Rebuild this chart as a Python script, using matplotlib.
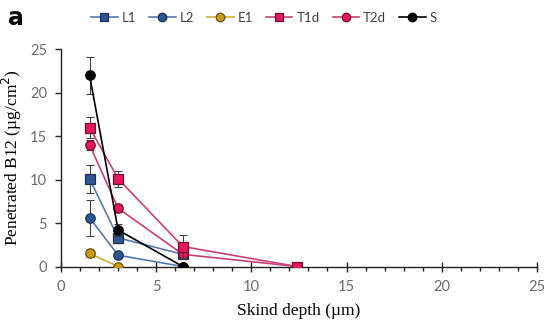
import matplotlib
matplotlib.use("Agg")
import matplotlib.pyplot as plt
import numpy as np

# skin depth (um)
depth = [1.5, 3.0, 6.4, 12.4]

names = ["L1", "L2", "E1", "T1d", "T2d", "S"]
L1 = [10.1, 3.3, 1.4, np.nan]
L2 = [5.6, 1.3, 0.0, np.nan]
E1 = [1.5, 0.0, np.nan, np.nan]
T1d = [16.0, 10.1, 2.3, 0.0]
T2d = [14.0, 6.7, 1.4, 0.0]
S = [22.0, 4.2, 0.0, np.nan]

L1_err = [1.6, 0.6, 0.0, 0.0]
L2_err = [2.1, 0.3, 0.0, 0.0]
E1_err = [0.4, 0.1, 0.0, 0.0]
T1d_err = [1.2, 0.9, 1.3, 0.0]
T2d_err = [0.6, 0.4, 0.2, 0.0]
S_err = [2.1, 0.7, 0.1, 0.0]

series = [L1, L2, E1, T1d, T2d, S]
errors = [L1_err, L2_err, E1_err, T1d_err, T2d_err, S_err]
markers = ["s", "o", "o", "s", "o", "o"]
fills = ["#2F5597", "#2F5597", "#C99A17", "#E8175D", "#E8175D", "#000000"]
edges = ["#1F3050", "#1F3050", "#6B5210", "#6A1030", "#6A1030", "#000000"]
lines = ["#5878AE", "#5878AE", "#D1AE3A", "#C8407A", "#C8407A", "#000000"]
zord = [4, 3, 3, 6, 5, 7]

fig = plt.figure(figsize=(5.5, 3.26), dpi=100)
ax = fig.add_axes([0.111, 0.1825, 0.865, 0.666])

for y, e, n, m, fc, ec, lc, z in zip(series, errors, names, markers, fills, edges, lines, zord):
    y = np.array(y)
    e = np.array(e)
    ok = ~np.isnan(y)
    x = np.array(depth)[ok]
    ax.errorbar(x, y[ok], yerr=e[ok], fmt="none", ecolor="#404040",
                elinewidth=0.8, capsize=3, capthick=0.8, zorder=z - 0.5)
    ax.plot(x, y[ok], color=lc, lw=1.2, marker=m, ms=6.8, mfc=fc, mec=ec,
            mew=0.9, label=n, zorder=z)

ax.set_xlim(0, 25)
ax.set_ylim(0, 25)
ax.set_xticks(np.arange(0, 26, 5))
ax.set_xticks(np.arange(0, 26, 1), minor=True)
ax.set_yticks(np.arange(0, 26, 5))
ax.tick_params(axis="x", which="major", direction="inout", length=7, width=1, color="#222222")
ax.tick_params(axis="x", which="minor", direction="out", length=3, width=1, color="#222222")
ax.tick_params(axis="y", which="major", direction="out", length=4, width=1, color="#222222")
ax.tick_params(labelsize=10.5, labelcolor="#6A6A6A", pad=6)
for lab in ax.get_xticklabels() + ax.get_yticklabels():
    lab.set_family("Lato")

for s in ["top", "right"]:
    ax.spines[s].set_visible(False)
for s in ["left", "bottom"]:
    ax.spines[s].set_color("#222222")
    ax.spines[s].set_linewidth(1)

ax.set_xlabel("Skind depth (\u00b5m)", family="Liberation Serif", fontsize=12.5, labelpad=7)
ax.set_ylabel("Penetrated B12 (\u00b5g/cm$^2$)", family="Liberation Serif", fontsize=12.5, labelpad=4)

leg = fig.legend(loc="center", bbox_to_anchor=(0.48, 0.945), ncol=6, frameon=False,
                 prop={"family": "Lato", "size": 9.5}, handlelength=2.0, markerscale=0.9,
                 columnspacing=1.0, handletextpad=0.3)
for t in leg.get_texts():
    t.set_color("#404040")

fig.text(0.015, 0.945, "a", fontsize=17, fontweight="bold", family="DejaVu Sans", va="center")

fig.savefig("out.png", dpi=100)
